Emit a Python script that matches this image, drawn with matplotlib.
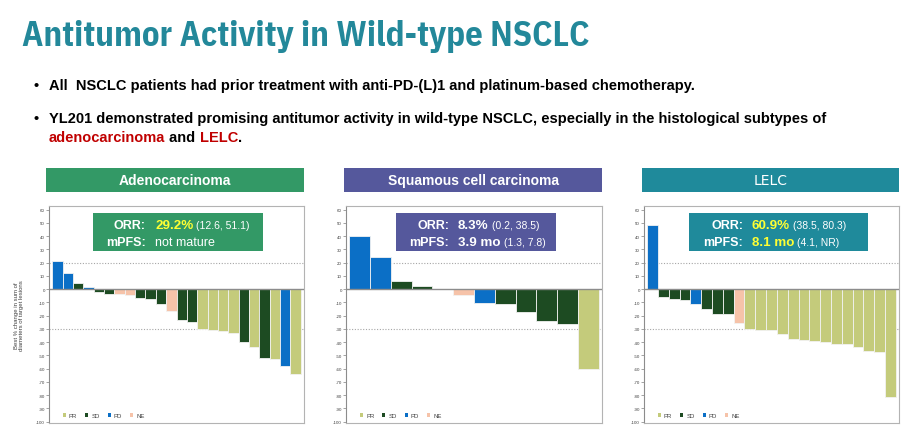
import matplotlib
matplotlib.use('Agg')
import matplotlib.pyplot as plt
from matplotlib.patches import Patch, Rectangle
from matplotlib import font_manager
from matplotlib.font_manager import FontProperties
from matplotlib.textpath import TextPath

W, H = 906, 431

# ---------------- data ----------------
title = "Antitumor Activity in Wild-type NSCLC"
bullet1 = "All  NSCLC patients had prior treatment with anti-PD-(L)1 and platinum-based chemotherapy."
bullet2 = "YL201 demonstrated promising antitumor activity in wild-type NSCLC, especially in the histological subtypes of"
bullet3_parts = ["adenocarcinoma", " and ", "LELC", "."]

panel_titles = ["Adenocarcinoma", "Squamous cell carcinoma", "LELC"]

adeno_resp = ["PD", "PD", "SD", "PD", "SD", "SD", "NE", "NE", "SD", "SD", "SD", "NE",
              "SD", "SD", "PR", "PR", "PR", "PR", "SD", "PR", "SD", "PR", "PD", "PR"]
adeno_vals = [21, 12, 4.5, 1.5, -2, -4, -4, -4.5, -6.5, -7.5, -11.5, -16.5,
              -23, -25, -30, -30.5, -31.5, -33, -39.5, -44, -52, -52.5, -58, -64]

squam_resp = ["PD", "PD", "SD", "SD", "SD", "NE", "PD", "SD", "SD", "SD", "SD", "PR"]
squam_vals = [40, 24, 6, 2.5, 0, -4.5, -10.5, -11.5, -17, -24, -26, -60]

lelc_resp = ["PD", "SD", "SD", "SD", "PD", "SD", "SD", "SD", "NE"] + ["PR"] * 14
lelc_vals = [48.5, -6, -7.5, -8.5, -11.5, -15, -19, -19, -25.5,
             -30, -30.5, -31, -34, -37.5, -38.5, -39, -40, -41.5, -41.5, -43.5, -46.5, -47.5, -81]

orr_vals = ["29.2%", "8.3%", "60.9%"]
orr_ci = ["(12.6, 51.1)", "(0.2, 38.5)", "(38.5, 80.3)"]
pfs_vals = ["not mature", "3.9 mo", "8.1 mo"]
pfs_ci = ["", "(1.3, 7.8)", "(4.1, NR)"]

categories = ["PR", "SD", "PD", "NE"]
yticks = list(range(-100, 61, 10))
ref_lines = [20, -30]

# ---------------- fonts ----------------
names = {f.name for f in font_manager.fontManager.ttflist}
SANS = 'Liberation Sans'
plt.rcParams['font.family'] = [SANS, 'DejaVu Sans']
plt.rcParams['axes.unicode_minus'] = False

TITLE_W, TITLE_CAP = 560.0, 24.3
target_ratio = TITLE_W / TITLE_CAP
best = None
for cand in ['Liberation Sans Narrow', 'Arial Narrow', 'Archivo Narrow', 'Roboto Condensed',
             'PT Sans Narrow', 'Asap Condensed', 'Barlow Semi Condensed', 'Fira Sans Condensed',
             'IBM Plex Sans Condensed', 'Encode Sans Semi Condensed', 'Encode Sans Condensed',
             'Open Sans Condensed', 'Sofia Sans Condensed', 'Saira Semi Condensed',
             'Roboto', 'Liberation Sans']:
    if cand not in names:
        continue
    try:
        fp = FontProperties(family=cand, weight='bold')
        capv = TextPath((0, 0), "H", prop=fp, size=100).get_extents().height
        wv = TextPath((0, 0), title, prop=fp, size=100).get_extents().width
    except Exception:
        continue
    ratio = wv / capv
    err = abs(ratio - target_ratio)
    if best is None or err < best[0]:
        best = (err, cand, capv, wv)
NARROW, cap_per100, w_per100 = best[1], best[2], best[3]
# compromise between matching cap height and matching width
size_cap = TITLE_CAP * 100 / cap_per100
size_w = TITLE_W * 100 / w_per100
title_px = (size_cap * size_w) ** 0.5
title_pt = title_px * 72 / 100

# ---------------- styles ----------------
cat_colors = {"PR": "#C4CB7B", "SD": "#1D4B22", "PD": "#0B6FC6", "NE": "#F6C3A9"}
panel_colors = ["#339966", "#55589C", "#1F8A9B"]
value_colors = [["#FFFF33", "white"], ["white", "white"], ["#FFFF33", "#FFFF33"]]
title_color = "#23889A"
red = "#C00000"

fig = plt.figure(figsize=(W / 100, H / 100), dpi=100)
renderer = fig.canvas.get_renderer()


def fx(x):
    return x / W


def fy(y):
    return 1 - y / H


def fit(t, width):
    bb = t.get_window_extent(renderer)
    t.set_fontsize(t.get_fontsize() * width / bb.width)


def run(x, y, parts):
    for s, gap, kw in parts:
        x += gap
        t = fig.text(fx(x), fy(y), s, ha='left', va='baseline', **kw)
        x = t.get_window_extent(renderer).x1
    return x


# title
tt = fig.text(fx(22), fy(46), title, ha='left', va='baseline', color=title_color,
              fontsize=title_pt, fontweight='bold', family=[NARROW, 'DejaVu Sans'])

# bullets
bkw = dict(fontsize=10, fontweight='bold', color='black')
b2 = fig.text(fx(49), fy(122.5), bullet2, ha='left', va='baseline', **bkw)
fit(b2, 777)
bsize = b2.get_fontsize()
bkw['fontsize'] = bsize
b1 = fig.text(fx(49), fy(90), bullet1, ha='left', va='baseline', **bkw)
for yb in (90, 122.5):
    fig.text(fx(33), fy(yb), "•", ha='left', va='baseline', **bkw)
cols3 = [red, 'black', red, 'black']
run(49, 141.5, [(s, 0, dict(fontsize=bsize, fontweight='bold', color=c))
                for s, c in zip(bullet3_parts, cols3)])

# panel geometry (pixels)
axes_px = [(49, 304), (346, 602), (644, 899)]
ax_top, ax_bot = 207, 424
header_px = [(46, 304), (344, 602), (642, 899)]
box_px = [(93, 263), (396, 556), (689, 868)]
label_right = [146, 449, 743]

data = [(adeno_resp, adeno_vals), (squam_resp, squam_vals), (lelc_resp, lelc_vals)]

for i in range(3):
    l, r = axes_px[i]
    ax = fig.add_axes([fx(l), fy(ax_bot), (r - l) / W, (ax_bot - ax_top) / H])
    resp, vals = data[i]
    xs = list(range(len(vals)))
    ax.bar(xs, vals, width=1.0, color=[cat_colors[c] for c in resp],
           edgecolor='#F2F2F2', linewidth=0.6, zorder=2)
    ax.margins(x=0.013)
    ax.set_ylim(-101, 62.8)
    ax.axhline(0, color='#8C8C8C', lw=1.0, zorder=3)
    for v in ref_lines:
        ax.axhline(v, color='#A6A6A6', lw=0.8, ls=(0, (1, 1.5)), zorder=1)
    ax.set_xticks([])
    ax.set_yticks(yticks)
    ax.set_yticklabels([str(v) for v in yticks])
    ax.tick_params(axis='y', labelsize=3.2, length=2, width=0.5, pad=1,
                   colors='#7F7F7F', labelcolor='#404040')
    for s in ax.spines.values():
        s.set_color('#B3B3B3')
        s.set_linewidth(0.8)
    ax.spines['left'].set_color('#8C8C8C')
    handles = [Patch(facecolor=cat_colors[c], edgecolor='none', label=c) for c in categories]
    leg = ax.legend(handles=handles, loc='lower left', bbox_to_anchor=(0.035, 0.0),
                    ncol=4, frameon=False, fontsize=4.3, handlelength=0.55,
                    handleheight=0.55, handletextpad=0.5, columnspacing=1.3,
                    borderaxespad=0.4)
    for t in leg.get_texts():
        t.set_color('#404040')

    # header box
    hl, hr = header_px[i]
    fig.patches.append(Rectangle((fx(hl), fy(193)), (hr - hl) / W, 24 / H,
                                 transform=fig.transFigure, facecolor=panel_colors[i],
                                 edgecolor='none'))
    if i < 2:
        fig.text(fx((hl + hr) / 2), fy(181), panel_titles[i], ha='center', va='center',
                 color='white', fontsize=10, fontweight='bold')
    else:
        fig.text(fx((hl + hr) / 2), fy(181), panel_titles[i], ha='center', va='center',
                 color='white', fontsize=10, family=['DejaVu Sans'])

    # ORR box
    bl, br = box_px[i]
    fig.patches.append(Rectangle((fx(bl), fy(252)), (br - bl) / W, 38 / H,
                                 transform=fig.transFigure, facecolor=panel_colors[i],
                                 edgecolor='none', zorder=5))
    lr = label_right[i]
    for j, (lab, yb) in enumerate([("ORR:", 229), ("mPFS:", 246)]):
        fig.text(fx(lr), fy(yb), lab, ha='right', va='baseline', color='white',
                 fontsize=9, fontweight='bold', zorder=6)
    vc = value_colors[i]
    run(lr + 9, 229, [(orr_vals[i], 0, dict(fontsize=9.6, fontweight='bold', color=vc[0], zorder=6)),
                      (orr_ci[i], 3, dict(fontsize=7.5, color='white', zorder=6))])
    if pfs_ci[i]:
        run(lr + 9, 246, [(pfs_vals[i], 0, dict(fontsize=9.6, fontweight='bold', color=vc[1], zorder=6)),
                          (pfs_ci[i], 3, dict(fontsize=7.5, color='white', zorder=6))])
    else:
        run(lr + 9, 246, [(pfs_vals[i], 0, dict(fontsize=9, color='white', zorder=6))])

fig.text(fx(19), fy(316), "Best % change in sum of\ndiameters of target lesions",
         rotation=90, ha='center', va='center', fontsize=4.3, color='#404040',
         linespacing=1.2)

fig.savefig('out.png', dpi=100)
